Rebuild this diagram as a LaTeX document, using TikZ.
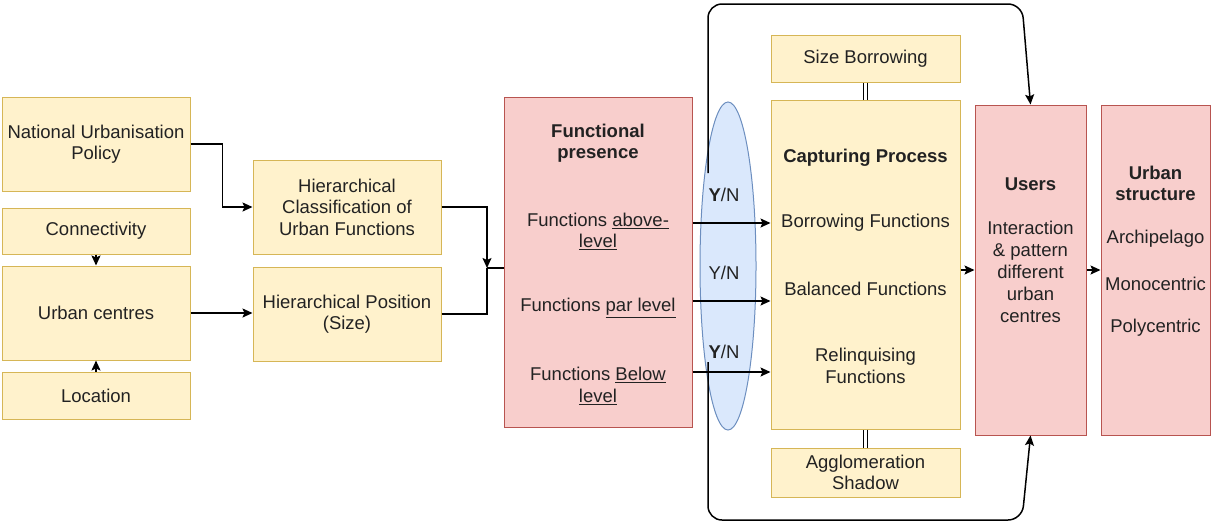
\documentclass[tikz,border=0pt]{standalone}
\usepackage{fontspec}
\setmainfont{Liberation Sans}
\usetikzlibrary{arrows.meta,shapes.geometric}

\definecolor{yfill}{HTML}{FFF2CC}
\definecolor{yedge}{HTML}{D6B656}
\definecolor{pfill}{HTML}{F8CECC}
\definecolor{pedge}{HTML}{B85450}
\definecolor{bfill}{HTML}{DAE8FC}
\definecolor{bedge}{HTML}{6C8EBF}
\definecolor{ink}{HTML}{222222}

\tikzset{
  base/.style={font={\fontsize{18.5}{21.5}\selectfont}, text=ink, align=center},
  ybox/.style={base, draw=yedge, fill=yfill, line width=1pt, inner sep=0pt},
  pbox/.style={base, draw=pedge, fill=pfill, line width=1pt, inner sep=0pt},
  txt/.style={base, inner sep=0pt},
  bold/.style={font={\fontsize{18.5}{21.5}\selectfont\bfseries}},
  conn/.style={draw=black, line width=1.5pt},
  arr/.style={conn, -{Stealth[length=10pt,width=9pt,inset=2pt]}},
  dbl/.style={draw=black, double=white, double distance=3pt, line width=0.9pt}
}

\begin{document}
\begin{tikzpicture}[x=1pt, y=-1pt]
\useasboundingbox (0,0) rectangle (1212,525);

% left column of inputs
\node[ybox, minimum width=188pt, minimum height=94pt] (nup) at (96,144) {National Urbanisation\\Policy};
\node[ybox, minimum width=188pt, minimum height=46pt] (con) at (96,231) {Connectivity};
\node[ybox, minimum width=188pt, minimum height=94pt] (urb) at (96,313) {Urban centres};
\node[ybox, minimum width=188pt, minimum height=47pt] (loc) at (96,395.5) {Location};

% hierarchy boxes
\node[ybox, minimum width=188pt, minimum height=94pt] (hc) at (347,207) {Hierarchical\\Classification of\\Urban Functions};
\node[ybox, minimum width=188pt, minimum height=94pt] (hp) at (347,314) {Hierarchical Position\\(Size)};

% functional presence
\node[pbox, minimum width=188pt, minimum height=330pt] (fp) at (598,262) {};
\node[txt, bold] (fpt) at (598,143) {Functional\\presence};
\node[txt] (fpa) at (598,231.5) {Functions \underline{above-}\\\underline{level}};
\node[txt] (fpp) at (598,308) {Functions \underline{par level}};
\node[txt] (fpb) at (598,386) {Functions \underline{Below}\\\underline{level}};

% decision ellipse
\node[ellipse, draw=bedge, fill=bfill, line width=1pt, minimum width=56pt, minimum height=328pt, inner sep=0pt] (ell) at (728,266) {};

% capturing process column
\node[ybox, minimum width=189pt, minimum height=47pt] (sb) at (865.5,58.5) {Size Borrowing};
\node[ybox, minimum width=189pt, minimum height=329pt] (cp) at (865.5,264.5) {};
\node[ybox, minimum width=189pt, minimum height=49pt] (ag) at (865.5,472.5) {Agglomeration\\Shadow};
\node[txt, bold] (cpt) at (865.5,158) {Capturing Process};
\node[txt] (cpb) at (865.5,223) {Borrowing Functions};
\node[txt] (cpl) at (865.5,289) {Balanced Functions};
\node[txt] (cpr) at (865.5,366) {Relinquising\\Functions};

% users and urban structure
\node[pbox, minimum width=111pt, minimum height=330pt] (us) at (1030.5,270) {};
\node[txt, bold] (ust) at (1030.5,184) {Users};
\node[txt, font={\fontsize{18.5}{22}\selectfont}] (usi) at (1030.5,272) {Interaction\\\& pattern\\different\\urban\\centres};
\node[pbox, minimum width=109pt, minimum height=330pt] (st) at (1155.5,270) {};
\node[txt, bold] (stt) at (1155.5,183.5) {Urban\\structure};
\node[txt] (sta) at (1155.5,239) {Archipelago};
\node[txt] (stm) at (1155.5,284) {Monocentric};
\node[txt] (stp) at (1155.5,328) {Polycentric};

% connectors on the left
\draw[arr] (nup.east) -- ++(32,0) |- (hc.west);
\draw[arr] (urb.east) -- (urb.east -| hp.west);
\draw[arr] (con.south) -- (urb.north);
\draw[arr] (loc.north) -- (urb.south);

\coordinate (mg) at (487,268);
\draw[arr] (hc.east) -| (mg);
\draw[conn] (hp.east) -| (mg);
\draw[conn] (mg) -- (mg -| fp.west);

% feedback loop around the capturing process
\coordinate (lt) at (708,173);
\coordinate (lb) at (708,362);
\coordinate (tl) at (708,4);
\coordinate (tr) at (1022,4);
\coordinate (bl) at (708,520);
\coordinate (br) at (1022,520);
\draw[arr, rounded corners=14pt] (lt) -- (tl) -- (tr) -- (us.north);
\draw[arr, rounded corners=14pt] (lb) -- (bl) -- (br) -- (us.south);

% Y/N labels
\node[txt] (yn1) at (724,195) {\textbf{Y}/N};
\node[txt] (yn2) at (724,273) {Y/N};
\node[txt] (yn3) at (724,352) {\textbf{Y}/N};

% functions into the capturing process
\coordinate (r1) at (0,223);
\coordinate (r2) at (0,301);
\coordinate (r3) at (0,372);
\draw[arr] (fp.east |- r1) -- (cp.west |- r1);
\draw[arr] (fp.east |- r2) -- (cp.west |- r2);
\draw[arr] (fp.east |- r3) -- (cp.west |- r3);

% double links
\draw[dbl] (sb.south) -- (cp.north);
\draw[dbl] (cp.south) -- (ag.north);

% outputs
\draw[arr] (cp.east |- us.west) -- (us.west);
\draw[arr] (us.east) -- (st.west);
\end{tikzpicture}
\end{document}
